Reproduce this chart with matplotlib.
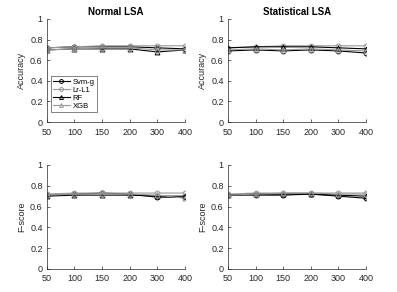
import matplotlib
matplotlib.use("Agg")
import matplotlib.pyplot as plt

# x categories (equally spaced)
dims = ["50", "100", "150", "200", "300", "400"]

# Normal LSA
acc_norm_svm = [0.72, 0.73, 0.73, 0.73, 0.72, 0.71]
acc_norm_lr = [0.72, 0.73, 0.74, 0.74, 0.74, 0.74]
acc_norm_rf = [0.70, 0.71, 0.71, 0.71, 0.68, 0.70]
acc_norm_xgb = [0.70, 0.71, 0.72, 0.72, 0.70, 0.70]

f_norm_svm = [0.71, 0.72, 0.73, 0.72, 0.69, 0.69]
f_norm_lr = [0.72, 0.73, 0.73, 0.73, 0.73, 0.73]
f_norm_rf = [0.70, 0.71, 0.71, 0.71, 0.70, 0.70]
f_norm_xgb = [0.71, 0.72, 0.72, 0.72, 0.71, 0.68]

# Statistical LSA
acc_stat_svm = [0.69, 0.70, 0.69, 0.70, 0.69, 0.67]
acc_stat_lr = [0.72, 0.73, 0.74, 0.74, 0.74, 0.74]
acc_stat_rf = [0.72, 0.73, 0.73, 0.73, 0.72, 0.71]
acc_stat_xgb = [0.70, 0.71, 0.70, 0.71, 0.70, 0.69]

f_stat_svm = [0.71, 0.71, 0.71, 0.72, 0.70, 0.68]
f_stat_lr = [0.72, 0.73, 0.73, 0.73, 0.73, 0.73]
f_stat_rf = [0.71, 0.72, 0.72, 0.72, 0.71, 0.70]
f_stat_xgb = [0.71, 0.72, 0.73, 0.73, 0.72, 0.72]

labels = ["Svm-g", "Lr-L1", "RF", "XGB"]
styles = [("k", "o"), ("0.6", "o"), ("k", "^"), ("0.6", "^")]

plt.rcParams['font.family'] = ['Liberation Sans', 'DejaVu Sans']
plt.rcParams['font.size'] = 6.5

fig = plt.figure(figsize=(3.97, 2.92), dpi=100)

panels = [
    ([0.118, 0.582, 0.348, 0.353], [acc_norm_svm, acc_norm_lr, acc_norm_rf, acc_norm_xgb], "Accuracy", "Normal LSA"),
    ([0.574, 0.582, 0.348, 0.353], [acc_stat_svm, acc_stat_lr, acc_stat_rf, acc_stat_xgb], "Accuracy", "Statistical LSA"),
    ([0.118, 0.079, 0.348, 0.356], [f_norm_svm, f_norm_lr, f_norm_rf, f_norm_xgb], "F-score", None),
    ([0.574, 0.079, 0.348, 0.356], [f_stat_svm, f_stat_lr, f_stat_rf, f_stat_xgb], "F-score", None),
]

x = list(range(len(dims)))
for i, (rect, series, ylab, title) in enumerate(panels):
    ax = fig.add_axes(rect)
    for s, (c, m), lab in zip(series, styles, labels):
        ax.plot(x, s, color=c, marker=m, markersize=3.5, markerfacecolor="none",
                markeredgewidth=0.7, linewidth=0.8, label=lab)
    ax.set_xlim(0, len(dims) - 1)
    ax.set_ylim(0, 1)
    ax.set_xticks(x)
    ax.set_xticklabels(dims)
    ax.set_yticks([0, 0.2, 0.4, 0.6, 0.8, 1])
    ax.set_yticklabels(["0", "0.2", "0.4", "0.6", "0.8", "1"])
    ax.set_ylabel(ylab, color="0.15", labelpad=3)
    if title:
        ax.set_title(title, fontweight="bold", fontsize=7, pad=3)
    for sp in ["top", "right"]:
        ax.spines[sp].set_visible(False)
    for sp in ["left", "bottom"]:
        ax.spines[sp].set_color("0.15")
        ax.spines[sp].set_linewidth(0.5)
    ax.tick_params(direction="in", length=2, width=0.5, colors="0.15")
    ax.tick_params(axis="x", pad=4)
    ax.tick_params(axis="y", pad=3)
    if i == 0:
        leg = ax.legend(loc="lower left", bbox_to_anchor=(0.03, 0.1), fontsize=5.5,
                        frameon=True, fancybox=False, edgecolor="0.15",
                        handlelength=2.2, borderpad=0.25, labelspacing=0.1,
                        handletextpad=0.4, borderaxespad=0.0, markerscale=0.8)
        leg.get_frame().set_linewidth(0.5)

fig.savefig("out.png", dpi=100)
